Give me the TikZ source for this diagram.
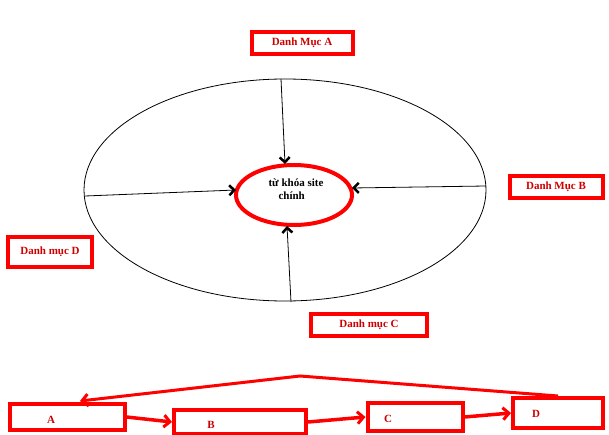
\documentclass[tikz,border=0pt]{standalone}
\usepackage{fontspec}
\setmainfont{Liberation Serif}
\usetikzlibrary{arrows.meta,shapes.geometric}
\begin{document}
\begin{tikzpicture}[x=1pt,y=-1pt,
  rbox/.style={draw=red,line width=4pt,minimum height=22pt,text=red!80!black,font=\bfseries\fontsize{11}{12}\selectfont,inner sep=0pt},
  blk/.style={-{Straight Barb[length=5pt,width=10pt,line width=2.5pt]},black,line width=0.8pt},
  rarr/.style={-{Straight Barb[length=6pt,width=12pt,line width=3pt]},red,line width=3.5pt}]
\useasboundingbox (0,0) rectangle (609,435);
\draw[line width=0.8pt] (285,190) ellipse [x radius=201, y radius=111];
\node[draw=red,line width=4pt,ellipse,minimum width=116pt,minimum height=60pt,inner sep=0pt] (core) at (294,195) {};
\node[font=\bfseries\fontsize{11}{13}\selectfont,align=left] at (296,189) {từ khóa site\\\hspace*{10pt}chính};
\coordinate (ot) at (281,79);
\coordinate (or) at (486,186);
\coordinate (ob) at (291,302);
\coordinate (ol) at (85,196);
\coordinate (it) at (285,164);
\coordinate (ir) at (352,188);
\coordinate (ib) at (287,226);
\coordinate (il) at (236,190);
\draw[blk] (ot) -- (it);
\draw[blk] (or) -- (ir);
\draw[blk] (ob) -- (ib);
\draw[blk] (ol) -- (il);
\node[rbox,minimum width=101pt] (A) at (302,43) {Danh Mục A};
\node[rbox,minimum width=93pt] (B) at (556,187) {Danh Mục B};
\node[rbox,minimum width=116pt] (C) at (369,325) {Danh mục C};
\node[rbox,minimum width=84pt,minimum height=30pt] (D) at (50,252) {Danh mục D};
\node[rbox,minimum width=115pt,minimum height=26pt] (ba) at (67,417) {};
\node[text=red!80!black,font=\bfseries\fontsize{11}{12}\selectfont] at (51,420) {A};
\node[rbox,minimum width=132pt,minimum height=24pt] (bb) at (240,422) {};
\node[text=red!80!black,font=\bfseries\fontsize{11}{12}\selectfont] at (211,425) {B};
\node[rbox,minimum width=95pt,minimum height=28pt] (bc) at (415,417) {};
\node[text=red!80!black,font=\bfseries\fontsize{11}{12}\selectfont] at (388,419) {C};
\node[rbox,minimum width=90pt,minimum height=30pt] (bd) at (558,413) {};
\node[text=red!80!black,font=\bfseries\fontsize{11}{12}\selectfont] at (536,414) {D};
\draw[rarr] (ba.east) -- (bb.west);
\draw[rarr] (bb.east) -- (bc.west);
\draw[rarr] (bc.east) -- (bd.west);
\coordinate (peak) at (300,376);
\draw[rarr,line width=3pt] (bd.north) -- (peak) -- (80,401);
\end{tikzpicture}
\end{document}
